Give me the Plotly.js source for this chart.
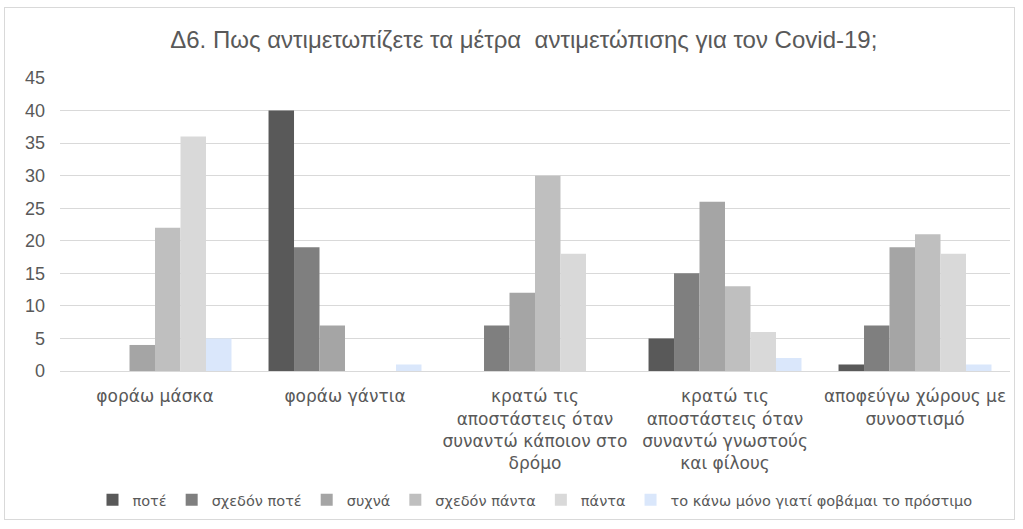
<!DOCTYPE html>
<html>
<head>
<meta charset="utf-8">
<script src="https://cdn.plot.ly/plotly-3.0.1.min.js"></script>
<style>
html,body{margin:0;padding:0;background:#fff;}
#wrap{position:relative;width:1023px;height:529px;}
#chart{width:1023px;height:529px;}
#frame{position:absolute;left:4px;top:7px;width:1011px;height:513px;border:1px solid #d9d9d9;pointer-events:none;box-sizing:border-box;}
</style>
</head>
<body>
<div id="wrap"><div id="chart"></div><div id="frame"></div></div>
<script>
const categories = [
  "φοράω μάσκα",
  "φοράω γάντια",
  "κρατώ τις<br>αποστάστεις όταν<br>συναντώ κάποιον στο<br>δρόμο",
  "κρατώ τις<br>αποστάστεις όταν<br>συναντώ γνωστούς<br>και φίλους",
  "αποφεύγω χώρους με<br>συνοστισμό"
];
const seriesNames = ["ποτέ", "σχεδόν ποτέ", "συχνά", "σχεδόν πάντα", "πάντα", "το κάνω μόνο γιατί φοβάμαι το πρόστιμο"];
const pote        = [0, 40, 0, 5, 1];
const sxedonPote  = [0, 19, 7, 15, 7];
const sixna       = [4, 7, 12, 26, 19];
const sxedonPanta = [22, 0, 30, 13, 21];
const panta       = [36, 0, 18, 6, 18];
const prostimo    = [5, 1, 0, 2, 1];
const seriesValues = [pote, sxedonPote, sixna, sxedonPanta, panta, prostimo];
const colors = ["#595959", "#7f7f7f", "#a5a5a5", "#bfbfbf", "#d9d9d9", "#dae7fb"];
const yTicks = [0, 5, 10, 15, 20, 25, 30, 35, 40, 45];

const FONT = "Liberation Sans, Arial, sans-serif";
const FONT2 = "DejaVu Sans, sans-serif";
const traces = seriesNames.map((n, i) => ({
  type: "bar",
  name: n,
  x: categories,
  y: seriesValues[i],
  marker: {color: colors[i]},
  hoverinfo: "x+y+name"
}));

const layout = {
  width: 1023, height: 529,
  margin: {l: 60, r: 13, t: 78, b: 158},
  paper_bgcolor: "#fff", plot_bgcolor: "#fff",
  barmode: "group", bargap: 0.195, bargroupgap: 0,
  title: {text: "Δ6. Πως αντιμετωπίζετε τα μέτρα  αντιμετώπισης για τον Covid-19;",
          font: {family: FONT, size: 24, color: "#595959"}, x: 0.512, xanchor: "center", y: 0.925, yanchor: "middle"},
  font: {family: FONT, color: "#595959", size: 13},
  xaxis: {showgrid: false, showline: true, linecolor: "#d9d9d9", ticks: "", tickfont: {family: FONT2, size: 17, color: "#595959"},
          ticklabelstandoff: 10, automargin: false},
  yaxis: {range: [0, 45], tickvals: yTicks, showgrid: true, gridcolor: "#d9d9d9", gridwidth: 1, zeroline: false,
          showline: false, ticks: "", tickfont: {size: 18, color: "#595959"}, ticklabelstandoff: 14, automargin: false},
  legend: {orientation: "h", x: 0.5, xanchor: "center", y: -0.44, yanchor: "middle",
           font: {family: FONT2, size: 14.5, color: "#595959"}, traceorder: "normal", itemwidth: 30},
  showlegend: true
};
Plotly.newPlot("chart", traces, layout, {displayModeBar: false, staticPlot: true});
</script>
</body>
</html>
